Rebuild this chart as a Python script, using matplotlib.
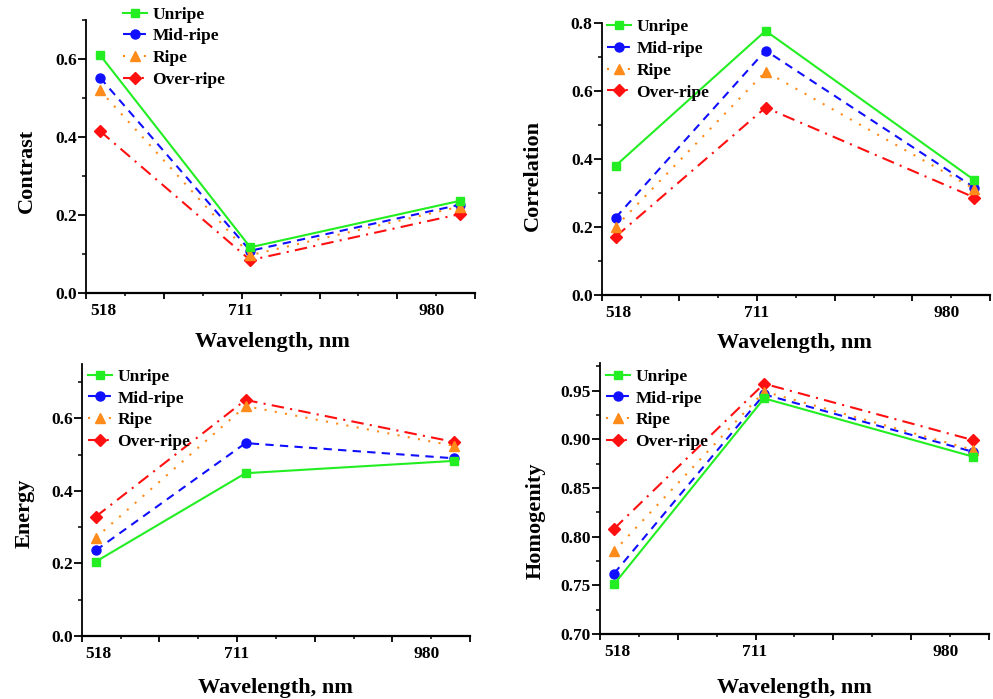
import numpy as np
import matplotlib
matplotlib.use('Agg')
import matplotlib.pyplot as plt
from matplotlib.ticker import MultipleLocator, FormatStrFormatter

plt.rcParams['font.family'] = ['Liberation Serif', 'DejaVu Serif']
plt.rcParams['font.weight'] = 'bold'

wavelengths = [518, 711, 980]
tick_text = ['518', '711', '980']
series = ['Unripe', 'Mid-ripe', 'Ripe', 'Over-ripe']

contrast = {
    'Unripe': [0.611, 0.118, 0.237],
    'Mid-ripe': [0.553, 0.109, 0.227],
    'Ripe': [0.520, 0.098, 0.222],
    'Over-ripe': [0.416, 0.085, 0.203],
}
correlation = {
    'Unripe': [0.381, 0.778, 0.338],
    'Mid-ripe': [0.228, 0.720, 0.316],
    'Ripe': [0.201, 0.658, 0.312],
    'Over-ripe': [0.172, 0.552, 0.287],
}
energy = {
    'Unripe': [0.205, 0.449, 0.483],
    'Mid-ripe': [0.236, 0.532, 0.490],
    'Ripe': [0.271, 0.634, 0.524],
    'Over-ripe': [0.329, 0.651, 0.535],
}
homogenity = {
    'Unripe': [0.751, 0.942, 0.882],
    'Mid-ripe': [0.762, 0.946, 0.887],
    'Ripe': [0.785, 0.949, 0.889],
    'Over-ripe': [0.808, 0.957, 0.899],
}

colors = {'Unripe': '#22ee22', 'Mid-ripe': '#1010ff', 'Ripe': '#ff8c1a', 'Over-ripe': '#ff1010'}
markers = {'Unripe': ('s', 5.5), 'Mid-ripe': ('o', 6.5), 'Ripe': ('^', 7), 'Over-ripe': ('D', 6.5)}
styles = {'Unripe': '-', 'Mid-ripe': (0, (4, 3)), 'Ripe': (0, (1, 4)), 'Over-ripe': (0, (6, 3, 1, 3))}
zord = {'Unripe': 5, 'Mid-ripe': 3, 'Ripe': 4, 'Over-ripe': 2}

# label x-positions used by the original (Origin) figure, in nm
label_x = [522, 699, 944]

panels = [
    # data, ylabel, axes rect, ylim, major, minor, fmt, xlabel pos, ylabel pos, legend anchor
    (contrast, 'Contrast', [0.0866, 0.5804, 0.392, 0.3906], (0, 0.7), 0.2, 0.1, '%.1f',
     (0.478, -0.143), (-0.126, 0.45), (0.095, 1.05)),
    (correlation, 'Correlation', [0.606, 0.578, 0.391, 0.3886], (0, 0.8), 0.2, 0.1, '%.1f',
     (0.497, -0.14), (-0.152, 0.44), (0.013, 1.015)),
    (energy, 'Energy', [0.0823, 0.0901, 0.391, 0.3891], (0, 0.75), 0.2, 0.1, '%.1f',
     (0.5, -0.154), (-0.121, 0.45), (0.016, 0.983)),
    (homogenity, 'Homogenity', [0.6042, 0.093, 0.3917, 0.3873], (0.70, 0.978), 0.05, 0.025, '%.2f',
     (0.5, -0.162), (-0.139, 0.42), (0.015, 0.98)),
]

fig = plt.figure(figsize=(9.93, 6.99), dpi=100)

for data, ylab, rect, ylim, major, minor, fmt, xl, yl, leg in panels:
    ax = fig.add_axes(rect)
    for s in series:
        m, ms = markers[s]
        ax.plot(wavelengths, data[s], color=colors[s], linestyle=styles[s], lw=1.5,
                marker=m, markersize=ms, label=s, zorder=zord[s], clip_on=False)
    ax.set_xlim(500, 1000)
    ax.set_ylim(*ylim)
    ax.spines['top'].set_visible(False)
    ax.spines['right'].set_visible(False)
    ax.spines['left'].set_linewidth(1.3)
    ax.spines['bottom'].set_linewidth(1.6)
    ax.xaxis.set_major_locator(MultipleLocator(100))
    ax.xaxis.set_minor_locator(MultipleLocator(50))
    ax.yaxis.set_major_locator(MultipleLocator(major))
    ax.yaxis.set_minor_locator(MultipleLocator(minor))
    ax.yaxis.set_major_formatter(FormatStrFormatter(fmt))
    ax.tick_params(axis='x', which='major', direction='out', length=4, width=1.3, labelbottom=False)
    ax.tick_params(axis='x', which='minor', direction='out', length=2.5, width=1.1)
    ax.tick_params(axis='y', which='major', direction='out', length=5.5, width=1.3, labelsize=12.5, pad=1)
    ax.tick_params(axis='y', which='minor', direction='out', length=3, width=1.1)
    for x, t in zip(label_x, tick_text):
        ax.annotate(t, xy=(x, 0), xycoords=('data', 'axes fraction'), xytext=(0, -13),
                    textcoords='offset points', ha='center', va='center',
                    fontsize=12.5, fontweight='bold')
    ax.set_xlabel('Wavelength, nm', fontsize=16, fontweight='bold')
    ax.xaxis.set_label_coords(*xl)
    ax.set_ylabel(ylab, fontsize=16, fontweight='bold')
    ax.yaxis.set_label_coords(*yl)
    ax.legend(loc='upper left', bbox_to_anchor=leg, frameon=False,
              handlelength=1.4, handletextpad=0.3, labelspacing=0.32,
              borderpad=0, borderaxespad=0, prop={'weight': 'bold', 'size': 12.5})

fig.savefig('out.png', dpi=100)
